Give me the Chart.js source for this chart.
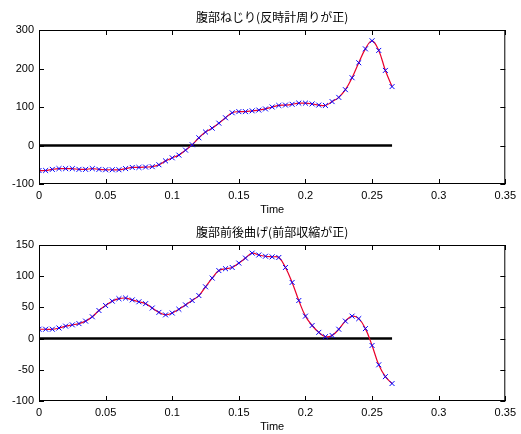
<!DOCTYPE html>
<html>
<head>
<meta charset="utf-8">
<script src="https://cdn.jsdelivr.net/npm/chart.js@4/dist/chart.umd.min.js"></script>
<style>
  html, body { margin: 0; padding: 0; background: #fff; }
  .box { width: 521px; height: 217px; position: relative; }
</style>
</head>
<body>
<div class="box"><canvas id="twistChart"></canvas></div>
<div class="box"><canvas id="bendChart"></canvas></div>
<script>
// 時刻 (s)
const times = [
  0, 0.005, 0.01, 0.015, 0.02, 0.025, 0.03, 0.035, 0.04, 0.045,
  0.05, 0.055, 0.06, 0.065, 0.07, 0.075, 0.08, 0.085, 0.09, 0.095,
  0.1, 0.105, 0.11, 0.115, 0.12, 0.125, 0.13, 0.135, 0.14, 0.145,
  0.15, 0.155, 0.16, 0.165, 0.17, 0.175, 0.18, 0.185, 0.19, 0.195,
  0.2, 0.205, 0.21, 0.215, 0.22, 0.225, 0.23, 0.235, 0.24, 0.245,
  0.25, 0.255, 0.26, 0.265
];

// 腹部ねじり
const twist = [
  -65, -65, -62, -60, -60, -60, -62, -62, -60, -62,
  -63, -63, -63, -60, -57, -57, -56, -55, -50, -40,
  -32, -25, -12, 2, 20, 35, 45, 58, 72, 85,
  88, 88, 90, 92, 95, 100, 104, 105, 107, 110,
  110, 108, 105, 104, 114, 125, 145, 176, 215, 251,
  272, 247, 195, 153
];

// 腹部前後曲げ
const bend = [
  15, 15, 15, 17, 20, 22, 24, 28, 35, 45,
  53, 60, 64, 65, 62, 59, 56, 49, 42, 38,
  41, 47, 54, 61, 69, 83, 97, 109, 112, 114,
  121, 129, 137, 134, 132, 131, 130, 114, 90, 61,
  36, 21, 10, 3, 5, 15, 28, 36, 32, 16,
  -11, -42, -61, -72
];

const zeroLine = [0, 0.265];
const xTicks = [0, 0.05, 0.1, 0.15, 0.2, 0.25, 0.3, 0.35];
const twistTicks = [-100, 0, 100, 200, 300];
const bendTicks = [-100, -50, 0, 50, 100, 150];

// 枠・内向き目盛り・タイトル
const boxPlugin = {
  id: "box",
  afterDraw(chart, args, opts) {
    const { ctx, chartArea: { left, right, top, bottom }, scales: { x, y } } = chart;
    ctx.save();
    ctx.strokeStyle = "#000";
    ctx.lineWidth = 1;
    ctx.strokeRect(left + 0.5, top + 0.5, right - left - 1, bottom - top - 1);
    ctx.beginPath();
    x.ticks.forEach(t => {
      const px = Math.round(x.getPixelForValue(t.value)) + 0.5;
      ctx.moveTo(px, bottom); ctx.lineTo(px, bottom - 5);
      ctx.moveTo(px, top); ctx.lineTo(px, top + 5);
    });
    y.ticks.forEach(t => {
      const py = Math.round(y.getPixelForValue(t.value)) + 0.5;
      ctx.moveTo(left, py); ctx.lineTo(left + 5, py);
      ctx.moveTo(right, py); ctx.lineTo(right - 5, py);
    });
    ctx.stroke();
    ctx.fillStyle = "#000";
    ctx.font = "12px 'Noto Sans CJK JP'";
    ctx.textAlign = "center";
    ctx.textBaseline = "middle";
    ctx.fillText(opts.text, (left + right) / 2, top - 13);
    ctx.restore();
  }
};

function makeChart(id, title, values, yTicks, padTop) {
  new Chart(document.getElementById(id), {
    type: "scatter",
    data: {
      datasets: [
        {
          data: times.map((t, i) => ({ x: t, y: values[i] })),
          showLine: true,
          borderColor: "#e8002a",
          borderWidth: 1.2,
          tension: 0.4,
          pointStyle: "crossRot",
          pointRadius: 3.5,
          pointBorderColor: "#0000ff",
          pointBorderWidth: 1,
          pointBackgroundColor: "#0000ff"
        },
        {
          data: zeroLine.map(t => ({ x: t, y: 0 })),
          showLine: true,
          borderColor: "#000",
          borderWidth: 2.5,
          pointRadius: 0
        }
      ]
    },
    options: {
      responsive: true,
      maintainAspectRatio: false,
      animation: false,
      layout: { padding: { left: 0, right: 12, top: padTop, bottom: 0 } },
      plugins: {
        legend: { display: false },
        tooltip: { enabled: false },
        title: { display: false },
        box: { text: title }
      },
      scales: {
        x: {
          type: "linear",
          min: 0,
          max: 0.35,
          afterBuildTicks: s => { s.ticks = xTicks.map(v => ({ value: v })); },
          ticks: {
            color: "#000",
            padding: 5,
            maxRotation: 0,
            autoSkip: false,
            font: { family: "'Liberation Sans', Arial", size: 11 },
            callback: v => String(+v.toFixed(2))
          },
          grid: { display: false, drawTicks: false },
          border: { display: false },
          title: {
            display: true,
            text: "Time",
            color: "#000",
            font: { family: "'Liberation Sans', Arial", size: 11 },
            padding: { top: 5, bottom: 0 }
          },
          afterFit: s => { s.height = 33; }
        },
        y: {
          min: yTicks[0],
          max: yTicks[yTicks.length - 1],
          afterBuildTicks: s => { s.ticks = yTicks.map(v => ({ value: v })); },
          ticks: {
            color: "#000",
            padding: 5,
            autoSkip: false,
            font: { family: "'Liberation Sans', Arial", size: 11 }
          },
          grid: { display: false, drawTicks: false },
          border: { display: false },
          afterFit: s => { s.width = 39; }
        }
      }
    },
    plugins: [boxPlugin]
  });
}

makeChart("twistChart", "腹部ねじり(反時計周りが正)", twist, twistTicks, 30);
makeChart("bendChart", "腹部前後曲げ(前部収縮が正)", bend, bendTicks, 28);
</script>
</body>
</html>
